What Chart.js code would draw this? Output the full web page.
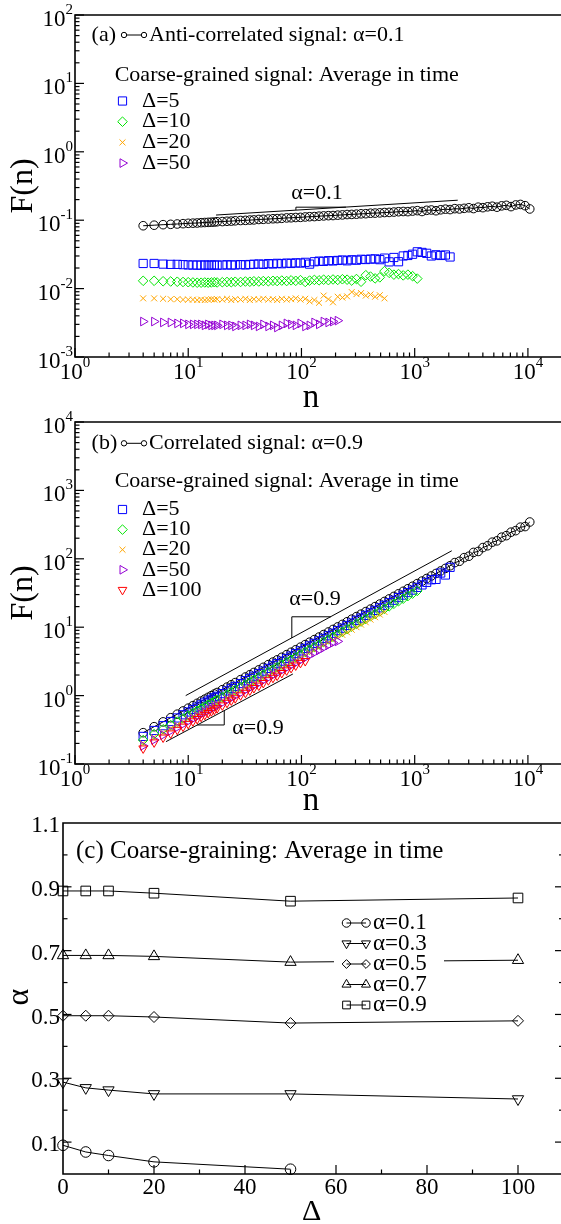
<!DOCTYPE html>
<html><head><meta charset="utf-8">
<script src="https://cdn.jsdelivr.net/npm/chart.js@4.4.1/dist/chart.umd.min.js"></script>
<style>
html,body{margin:0;padding:0;background:#fff;overflow:hidden;width:561px;height:1224px;position:relative;}
canvas{position:absolute;left:0;}
</style></head><body>
<canvas id="ca" style="top:0px"></canvas>
<canvas id="cb" style="top:410px"></canvas>
<canvas id="cc" style="top:810px"></canvas>
<script>
// ---------- DATA ----------
const nGrid = [4,5,6,7,8,9,10,11,12,13,14,15,16,17,18,20,22,24,26,29,32,35,38,42,46,51,56,61,67,74,81,89,98,108,118,130,143,157,173,190,209,230,253,278,306,336,370,407,447,492,541,595,655,720,792,871,958,1054,1160,1276,1403,1543,1698,1868,2054,2260,2486,2734,3008,3308,3639,4003,4404,4844,5328,5861,6447,7092,7801,8581,9439,10383];

// panel (a): anti-correlated signal alpha=0.1
const antiF = [0.083,0.0845,0.086,0.087,0.088,0.089,0.090,0.0905,0.091,0.092,
 0.0925,0.093,0.0935,0.094,0.095,0.0955,0.0965,0.097,0.098,0.099,
 0.0995,0.1005,0.101,0.1025,0.103,0.104,0.105,0.1055,0.1065,0.108,
 0.1085,0.1095,0.110,0.1115,0.1125,0.113,0.1145,0.1155,0.1165,0.117,
 0.1185,0.1195,0.121,0.1215,0.1225,0.124,0.1245,0.1265,0.127,0.128,
 0.1295,0.130,0.1315,0.133,0.134,0.1335,0.136,0.138,0.134,0.1395,
 0.141,0.1375,0.142,0.145,0.143,0.1475,0.146,0.149,0.152,0.148,
 0.155,0.1525,0.157,0.160,0.155,0.162,0.165,0.158,0.167,0.170,
 0.163,0.146];
const antiD5 = [0.0233,0.0233,0.0228,0.0226,0.0226,0.0224,0.0222,0.0221,0.0221,0.0220,
 0.0222,0.0220,0.0221,0.0222,0.0220,0.0221,0.0223,0.0221,0.0222,0.0224,
 0.0222,0.0225,0.0227,0.0229,0.0226,0.0232,0.0229,0.0234,0.0231,0.0236,
 0.0233,0.0238,0.0236,0.0242,0.0228,0.0247,0.0252,0.0250,0.0256,0.0254,
 0.0258,0.0262,0.0255,0.0264,0.0260,0.0268,0.0266,0.0270,0.0272,0.0265,
 0.0279,0.0246,0.0285,0.0247,0.0300,0.0305,0.0318,0.0345,0.0338,0.0328,
 0.0300,0.0312,0.0305,0.0310,0.0290];
const antiD10 = [0.0130,0.0130,0.0128,0.0127,0.0126,0.0125,0.0124,0.0123,0.0122,0.0122,
 0.0123,0.0122,0.0123,0.0124,0.0123,0.0124,0.0125,0.0124,0.0126,0.0125,
 0.0127,0.0126,0.0128,0.0127,0.0129,0.0128,0.0130,0.0129,0.0131,0.0129,
 0.0132,0.0130,0.0133,0.0125,0.0131,0.0134,0.0132,0.0135,0.0133,0.0136,
 0.0134,0.0137,0.0135,0.0131,0.0138,0.0126,0.0157,0.0150,0.0141,0.0146,
 0.0180,0.0170,0.0160,0.0163,0.0156,0.0160,0.0152,0.0140];
const antiD20 = [0.0072,0.0072,0.0071,0.0070,0.0070,0.0069,0.0069,0.0069,0.0068,0.0069,
 0.0068,0.0069,0.0070,0.0069,0.0070,0.0069,0.0071,0.0068,0.0070,0.0069,
 0.0071,0.0068,0.0070,0.0069,0.0071,0.0069,0.0070,0.0068,0.0071,0.0069,
 0.0070,0.0072,0.0069,0.0071,0.0065,0.0068,0.0062,0.0079,0.0070,0.0063,
 0.0076,0.0074,0.0077,0.0089,0.0083,0.0086,0.0079,0.0082,0.0076,0.0080,0.0072];
const antiD50 = [0.0033,0.0033,0.0032,0.0032,0.0031,0.0031,0.0030,0.0030,0.0030,0.0030,
 0.0029,0.0030,0.0029,0.0029,0.0029,0.0030,0.0029,0.0029,0.0028,0.0029,
 0.0029,0.0030,0.0029,0.0028,0.0030,0.0028,0.0029,0.0027,0.0029,0.0031,
 0.0030,0.0029,0.0031,0.0028,0.0029,0.0032,0.0030,0.0033,0.0032,0.0033,0.0034];

// panel (b): correlated signal alpha=0.9
const corrF = [0.287,0.351,0.413,0.475,0.535,0.596,0.655,0.713,0.771,0.830,
 0.887,0.944,1.0,1.055,1.11,1.22,1.33,1.44,1.55,1.71,
 1.87,2.02,2.18,2.38,2.59,2.84,3.09,3.33,3.63,3.97,
 4.30,4.68,5.11,5.57,6.04,6.59,7.17,7.81,8.51,9.27,
 10.1,11.0,12.0,13.1,14.3,15.5,16.9,18.4,20.0,21.8,
 23.8,25.9,28.2,30.8,33.5,36.5,39.7,43.4,47.2,51.5,
 56.1,61.0,66.5,72.4,79.1,88,92,104,109,124,
 128,146,155,175,183,207,218,245,258,290,
 296,345];
const corrD5 = [0.253,0.309,0.363,0.418,0.471,0.524,0.576,0.627,0.678,0.730,
 0.781,0.831,0.880,0.928,0.977,1.07,1.17,1.27,1.36,1.50,
 1.65,1.78,1.92,2.09,2.28,2.50,2.72,2.93,3.19,3.49,
 3.78,4.12,4.50,4.90,5.32,5.80,6.31,6.87,7.49,8.16,
 8.89,9.68,10.6,11.5,12.6,13.6,14.9,16.2,17.6,19.2,
 20.9,22.8,24.8,27.1,29.5,32.1,34.9,38.2,41.5,45.3,
 49.4,50.0,62.0,58.0,75.0];
const corrD10 = [0.224,0.274,0.322,0.371,0.417,0.465,0.511,0.556,0.601,0.647,
 0.692,0.736,0.780,0.823,0.866,0.952,1.04,1.12,1.21,1.33,
 1.46,1.58,1.70,1.86,2.02,2.22,2.41,2.60,2.83,3.10,
 3.35,3.65,3.99,4.34,4.71,5.14,5.59,6.09,6.64,7.23,
 7.88,8.58,9.36,10.2,11.2,12.1,13.2,14.4,15.6,17.0,
 18.6,20.2,22.0,24.0,26.1,28.5,31.0,33.9];
const corrD20 = [0.201,0.246,0.289,0.333,0.375,0.417,0.459,0.499,0.540,0.581,
 0.621,0.661,0.700,0.739,0.777,0.854,0.931,1.01,1.09,1.20,
 1.31,1.41,1.53,1.67,1.81,1.99,2.16,2.33,2.54,2.78,
 3.01,3.28,3.58,3.90,4.23,4.61,5.02,5.47,5.96,6.49,
 7.07,7.70,8.40,9.17,10.0,10.9,11.8,12.9,14.0,15.3,16.7];
const corrD50 = [0.184,0.225,0.264,0.304,0.342,0.381,0.419,0.456,0.493,0.531,
 0.568,0.604,0.640,0.675,0.710,0.781,0.851,0.922,0.992,1.09,
 1.20,1.29,1.40,1.52,1.66,1.82,1.98,2.13,2.32,2.54,
 2.75,3.00,3.27,3.56,3.87,4.22,4.59,5.00,5.45,5.93,6.2];
const corrD100 = [0.169,0.207,0.244,0.280,0.316,0.352,0.386,0.421,0.455,0.490,
 0.523,0.557,0.590,0.622,0.655,0.720,0.785,0.850,0.915,1.01,
 1.10,1.19,1.29,1.40,1.53,1.68,1.82,1.96,2.14,2.34,
 2.54,2.76,3.01,3.2];

// guide lines (data coordinates: n, F)
const guideA_n = [17.6, 2400],  guideA_F = [0.119, 0.196];
const triA_n = [89.3, 89.3, 247], triA_F = [0.1406, 0.155, 0.155];
const guideB1_n = [9.5, 2125], guideB1_F = [1.0, 131];
const triB1_n = [82.2, 82.2, 182], triB1_F = [6.94, 14.2, 14.2];
const guideB2_n = [6.36, 84], guideB2_F = [0.212, 2.07];
const triB2_n = [12.0, 20.8, 20.8], triB2_F = [0.372, 0.372, 0.603];

// panel (c)
const deltas = [0, 5, 10, 20, 50, 100];
const alpha01 = [0.090, 0.069, 0.058, 0.038, 0.015];
const alpha03 = [0.288, 0.270, 0.263, 0.251, 0.251, 0.235];
const alpha05 = [0.496, 0.496, 0.496, 0.492, 0.473, 0.480];
const alpha07 = [0.685, 0.685, 0.685, 0.682, 0.664, 0.670];
const alpha09 = [0.887, 0.887, 0.887, 0.880, 0.855, 0.865];

const legendA = ['Δ=5', 'Δ=10', 'Δ=20', 'Δ=50'];
const legendB = ['Δ=5', 'Δ=10', 'Δ=20', 'Δ=50', 'Δ=100'];
const legendC = ['α=0.1', 'α=0.3', 'α=0.5', 'α=0.7', 'α=0.9'];
const cLinTicksX = [0, 20, 40, 60, 80, 100];
const cLinTicksY = [0.1, 0.3, 0.5, 0.7, 0.9, 1.1];

// ---------- STYLE ----------
const FONT = "'Liberation Serif','Times New Roman',serif";
const COL = {blue:'#0000ff', green:'#00e600', orange:'#ffa500', purple:'#9400d3', red:'#ff0000', black:'#000000'};
const MK = {
  black:{s:'circle', r:4.3, rot:0}, blue:{s:'rect', r:5.8, rot:0}, green:{s:'rectRot', r:4.8, rot:0},
  orange:{s:'crossRot', r:4.2, rot:0}, purple:{s:'triangle', r:5, rot:90}, red:{s:'triangle', r:5, rot:180}
};

function drawMarker(ctx, m, color, x, y, r){
  ctx.save();
  ctx.strokeStyle = color; ctx.fillStyle = 'rgba(0,0,0,0)'; ctx.lineWidth = 1;
  Chart.helpers.drawPoint(ctx, {pointStyle:m.s, radius:r||m.r, rotation:m.rot, borderWidth:1}, x, y);
  ctx.restore();
}

const decor = {
  id:'decor',
  afterDatasetsDraw(chart, args, o){
    const ctx = chart.ctx, ca = chart.chartArea, xs = chart.scales.x, ys = chart.scales.y;
    ctx.save();
    ctx.strokeStyle = '#000'; ctx.fillStyle = '#000';
    ctx.lineWidth = 1;
    (o.guides||[]).forEach(g=>{
      ctx.beginPath();
      g.x.forEach((v,i)=>{ const px=xs.getPixelForValue(v), py=ys.getPixelForValue(g.y[i]); if(i) ctx.lineTo(px,py); else ctx.moveTo(px,py); });
      ctx.stroke();
    });
    if (o.legBox){ ctx.fillStyle='#fff'; ctx.fillRect(o.legBox[0], o.legBox[1], o.legBox[2], o.legBox[3]); ctx.fillStyle='#000'; }
    ctx.lineWidth = 1.6;
    ctx.beginPath(); ctx.rect(ca.left, ca.top, ca.right-ca.left, ca.bottom-ca.top); ctx.stroke();
    ctx.lineWidth = 1.2;
    const tk=(x1,y1,x2,y2)=>{ctx.beginPath();ctx.moveTo(x1,y1);ctx.lineTo(x2,y2);ctx.stroke();};
    const supLabel=(exp, x, y, align)=>{
      ctx.font = '23px '+FONT; const w1 = ctx.measureText('10').width;
      ctx.font = '15px '+FONT; const w2 = ctx.measureText(exp).width;
      const x0 = align==='center' ? x-(w1+w2)/2 : x-(w1+w2);
      ctx.textAlign='left'; ctx.textBaseline='middle';
      ctx.font = '23px '+FONT; ctx.fillText('10', x0, y);
      ctx.font = '15px '+FONT; ctx.fillText(exp, x0+w1, y-10);
    };
    if (o.log){
      const ex0=Math.floor(Math.log10(xs.min)), ex1=Math.ceil(Math.log10(xs.max));
      for(let e=ex0;e<=ex1;e++) for(let k=1;k<=9;k++){
        const v=k*Math.pow(10,e); if(v<xs.min*0.999||v>xs.max*1.001) continue;
        const px=xs.getPixelForValue(v); tk(px,ca.bottom,px,ca.bottom-(k===1?9:4.5));
        if(k===1) supLabel(String(e), px, ca.bottom+16, 'center');
      }
      const ey0=Math.floor(Math.log10(ys.min)+1e-9), ey1=Math.ceil(Math.log10(ys.max)-1e-9);
      for(let e=ey0;e<=ey1;e++) for(let k=1;k<=9;k++){
        const v=k*Math.pow(10,e); if(v<ys.min*0.999||v>ys.max*1.001) continue;
        const py=ys.getPixelForValue(v); tk(ca.left,py,ca.left+(k===1?9:4.5),py);
        if(k===1) supLabel(String(e), ca.left-2, py+5, 'right');
      }
    } else {
      for(let v=0; v<=110; v+=10){
        const px=xs.getPixelForValue(v); const maj = v%20===0;
        if (v>0 && v<110) tk(px,ca.bottom,px,ca.bottom-(maj?9:4.5));
      }
      ctx.font='23px '+FONT; ctx.textAlign='center'; ctx.textBaseline='middle';
      cLinTicksX.forEach(v=>ctx.fillText(String(v), xs.getPixelForValue(v), ca.bottom+14));
      for(let i=1;i<=10;i++){
        const v=i/10, py=ys.getPixelForValue(v), maj = i%2===1;
        const L = maj?8.5:4.5;
        tk(ca.left,py,ca.left+L,py); tk(ca.right,py,ca.right-L,py);
      }
      ctx.textAlign='right';
      cLinTicksY.forEach(v=>ctx.fillText(v.toFixed(1), ca.left-3, ys.getPixelForValue(v)+3));
    }
    (o.texts||[]).forEach(t=>{
      ctx.save();
      ctx.font = (t.s||22)+'px '+FONT; ctx.fillStyle='#000';
      ctx.textAlign = t.a||'left'; ctx.textBaseline = t.b||'middle';
      ctx.translate(t.x, t.y); if(t.rot) ctx.rotate(t.rot*Math.PI/180);
      ctx.fillText(t.t, 0, 0);
      ctx.restore();
    });
    if (o.oo){
      const [x1,x2,y]=o.oo;
      ctx.lineWidth=1; tk(x1,y,x2,y);
      [x1,x2].forEach(x=>{ctx.beginPath();ctx.fillStyle='#fff';ctx.arc(x,y,2.7,0,Math.PI*2);ctx.fill();ctx.stroke();});
      ctx.fillStyle='#000';
    }
    (o.legend||[]).forEach(L=>{
      if (L.line){ ctx.lineWidth=1; ctx.strokeStyle='#000'; tk(L.x1,L.y,L.x2,L.y);
        drawMarker(ctx, L.m, L.c, L.x1, L.y, L.r); drawMarker(ctx, L.m, L.c, L.x2, L.y, L.r);
      } else drawMarker(ctx, L.m, L.c, L.x1, L.y, L.r);
      ctx.font=(L.fs||22)+'px '+FONT; ctx.fillStyle='#000'; ctx.textAlign='left'; ctx.textBaseline='middle';
      ctx.fillText(L.t, L.tx, L.y);
    });
    ctx.restore();
  }
};

function ser(xs, vals, color, m, line, order){
  return {data: vals.map((v,i)=>({x:xs[i], y:v})), showLine:!!line, borderColor:color, borderWidth:1,
    pointStyle:m.s, pointRadius:m.r, pointRotation:m.rot, pointBorderColor:color,
    pointBackgroundColor:'rgba(0,0,0,0)', pointBorderWidth:1, clip:false, order:order};
}

function mk(id, w, h, pad, xcfg, ycfg, datasets, deco){
  const c=document.getElementById(id); c.width=w; c.height=h; c.style.width=w+'px'; c.style.height=h+'px';
  return new Chart(c, {type:'scatter', data:{datasets},
    options:{responsive:false, animation:false, devicePixelRatio:1, events:[],
      layout:{padding:pad},
      plugins:{legend:{display:false}, tooltip:{enabled:false}, decor:deco},
      scales:{x:Object.assign({display:false}, xcfg), y:Object.assign({display:false}, ycfg)}},
    plugins:[decor]});
}

// ---------- PANEL A ----------
const kA = ['blue','green','orange','purple'];
const legA = legendA.map((t,i)=>({t, m:MK[kA[i]], c:COL[kA[i]], x1:122.5, y:101+20.7*i, tx:142}));
mk('ca', 600, 412, {left:75, top:15, right:38, bottom:55},
  {type:'logarithmic', min:1, max:20000}, {type:'logarithmic', min:0.001, max:100},
  [ser(nGrid, antiF, COL.black, MK.black, true, 5),
   ser(nGrid, antiD5, COL.blue, MK.blue, false, 4),
   ser(nGrid, antiD10, COL.green, MK.green, false, 3),
   ser(nGrid, antiD20, COL.orange, MK.orange, false, 2),
   ser(nGrid, antiD50, COL.purple, MK.purple, false, 1)],
  {log:true,
   guides:[{x:guideA_n, y:guideA_F},{x:triA_n, y:triA_F}],
   texts:[{t:'(a)', x:91.6, y:35},
          {t:'Anti-correlated signal: α=0.1', x:149, y:35},
          {t:'Coarse-grained signal: Average in time', x:114.7, y:75},
          {t:'α=0.1', x:317, y:193, a:'center'},
          {t:'F(n)', x:24, y:186, a:'center', rot:-90, s:32},
          {t:'n', x:311, y:407, a:'center', b:'alphabetic', s:33}],
   oo:[124,144,35], legend:legA});

// ---------- PANEL B ----------
const kB = ['blue','green','orange','purple','red'];
const legB = legendB.map((t,i)=>({t, m:MK[kB[i]], c:COL[kB[i]], x1:122.5, y:99.5+20.1*i, tx:142}));
mk('cb', 600, 405, {left:75, top:12, right:38, bottom:51},
  {type:'logarithmic', min:1, max:20000}, {type:'logarithmic', min:0.1, max:10000},
  [ser(nGrid, corrF, COL.black, MK.black, true, 6),
   ser(nGrid, corrD5, COL.blue, MK.blue, false, 5),
   ser(nGrid, corrD10, COL.green, MK.green, false, 4),
   ser(nGrid, corrD20, COL.orange, MK.orange, false, 3),
   ser(nGrid, corrD50, COL.purple, MK.purple, false, 2),
   ser(nGrid, corrD100, COL.red, MK.red, false, 1)],
  {log:true,
   guides:[{x:guideB1_n, y:guideB1_F},{x:triB1_n, y:triB1_F},{x:guideB2_n, y:guideB2_F},{x:triB2_n, y:triB2_F}],
   texts:[{t:'(b)', x:91.6, y:33.3},
          {t:'Correlated signal: α=0.9', x:149, y:33.3},
          {t:'Coarse-grained signal: Average in time', x:114.7, y:71.7},
          {t:'α=0.9', x:315, y:189, a:'center'},
          {t:'α=0.9', x:258, y:318, a:'center'},
          {t:'F(n)', x:24, y:183, a:'center', rot:-90, s:32},
          {t:'n', x:311, y:400, a:'center', b:'alphabetic', s:33}],
   oo:[124,144,33.3], legend:legB});

// ---------- PANEL C ----------
const mC = [{s:'circle',r:5.3,rot:0},{s:'triangle',r:6.5,rot:180},{s:'rectRot',r:5.5,rot:0},{s:'triangle',r:6.5,rot:0},{s:'rect',r:6.8,rot:0}];
const aSets = [alpha01, alpha03, alpha05, alpha07, alpha09];
const legC = legendC.map((t,i)=>({t, m:mC[i], c:'#000', x1:346.5, x2:366, y:113+20.5*i, tx:373, line:true, r:mC[i].r*0.8, fs:23}));
mk('cc', 600, 414, {left:63, top:13, right:36.5, bottom:50},
  {type:'linear', min:0, max:110}, {type:'linear', min:0, max:1.1},
  aSets.map((a,i)=>ser(deltas, a, '#000', mC[i], true, i)),
  {log:false,
   legBox:[334, 102, 110, 104],
   texts:[{t:'(c) Coarse-graining: Average in time', x:76, y:41.7, s:25},
          {t:'α', x:20, y:187, a:'center', rot:-90, s:32},
          {t:'Δ', x:311.7, y:402, a:'center', s:30}],
   legend:legC});
</script>
</body></html>
